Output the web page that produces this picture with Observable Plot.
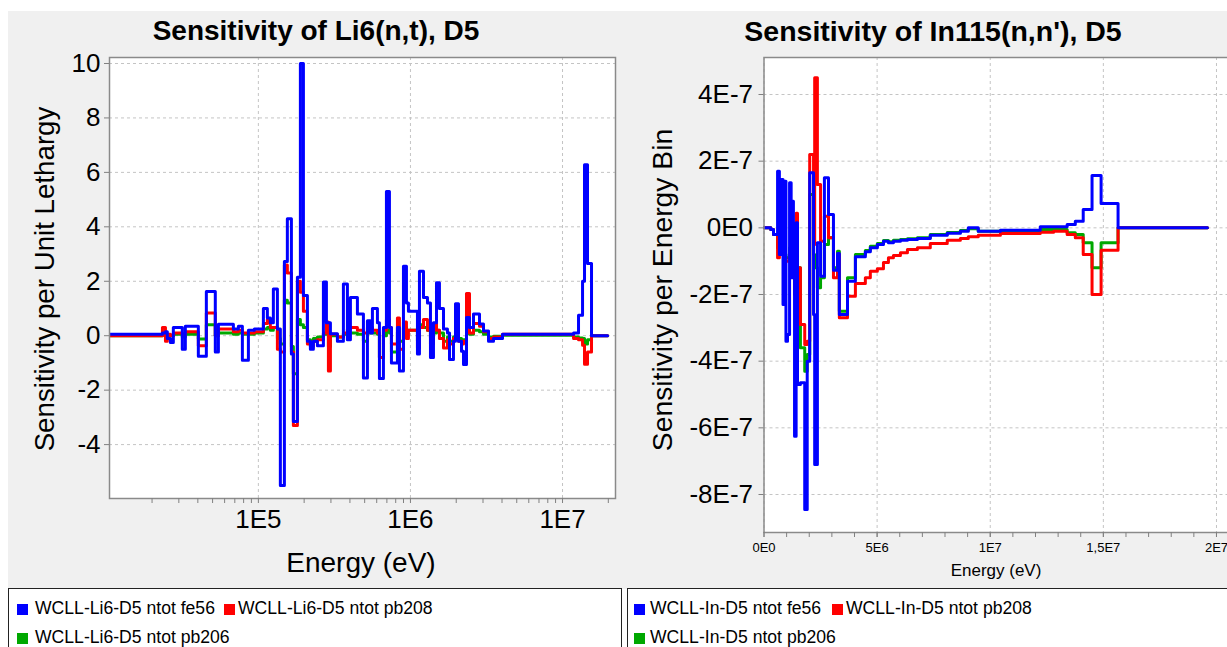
<!DOCTYPE html>
<html><head><meta charset="utf-8">
<script src="https://cdn.jsdelivr.net/npm/d3@7"></script>
<script src="https://cdn.jsdelivr.net/npm/@observablehq/plot@0.6"></script>
<style>
html,body{margin:0;padding:0;background:#fff;overflow:hidden;width:1227px;height:647px;}
#page{position:relative;width:1227px;height:647px;overflow:hidden;font-family:"Liberation Sans",Arial,sans-serif;color:#000;}
#bg{position:absolute;left:8px;top:11px;width:1219px;height:578px;background:#f0f0f0;}
.t{position:absolute;white-space:nowrap;line-height:1;transform:translate(-50%,-50%);}
.rot{transform:translate(-50%,-50%) rotate(-90deg);}
.plot{position:absolute;top:0;}
.legend{position:absolute;top:588px;height:70px;background:#fff;border:1px solid #222;box-sizing:border-box;}
.sq{position:absolute;width:11px;height:11px;}
.lt{position:absolute;white-space:nowrap;line-height:1;font-size:17.6px;transform:translateY(-50%);}
</style></head>
<body><div id="page"><div id="bg"></div></div>
<script>
// ---------- Left panel: Sensitivity of Li6(n,t), D5 (per unit lethargy) ----------
const liEnergy = [1.06e4,2.27e4,2.34e4,2.45e4,2.52e4,2.64e4,2.76e4,3.16e4,3.31e4,4.03e4,
 4.55e4,5.21e4,5.46e4,6.85e4,7.39e4,7.85e4,8.60e4,9.41e4,1.079e5,1.146e5,
 1.199e5,1.255e5,1.334e5,1.395e5,1.483e5,1.551e5,1.649e5,1.699e5,1.806e5,1.889e5,
 1.978e5,2.101e5,2.198e5,2.300e5,2.445e5,2.677e5,2.802e5,2.888e5,2.977e5,3.309e5,
 3.624e5,3.850e5,4.030e5,4.480e5,4.907e5,5.213e5,5.457e5,5.623e5,6.066e5,6.253e5,
 6.643e5,6.952e5,7.275e5,7.499e5,8.212e5,8.464e5,8.995e5,9.412e5,9.701e5,1.112e6,
 1.146e6,1.218e6,1.294e6,1.354e6,1.417e6,1.483e6,1.551e6,1.649e6,1.751e6,1.806e6,
 1.918e6,1.978e6,2.070e6,2.166e6,2.233e6,2.336e6,2.445e6,2.597e6,2.844e6,3.022e6,
 3.261e6,3.516e6,4.030e6,1.182e7,1.274e7,1.354e7,1.395e7,1.460e7,1.551e7,1.978e7];
const liFe56 = [0.05,0.05,0.1,0.15,-0.1,-0.25,0.3,-0.5,0.35,-0.75,
 1.62,-0.6,0.42,0.25,0.35,-0.9,0.2,0.25,1.0,0.65,
 0.48,1.72,0.25,-5.5,2.73,4.3,-0.67,-3.15,2.15,10.0,
 1.48,-0.2,-0.5,-0.2,-0.37,1.97,0.48,0.48,0.07,-0.2,
 1.9,-0.15,1.4,0.8,-1.55,0.55,0.1,1.0,0.48,-1.57,
 0.3,5.3,0.3,-1.0,0.3,-1.3,2.55,1.2,0.9,-0.67,
 2.37,1.4,1.2,-0.8,0.48,1.95,1.0,0.25,0.1,-0.87,
 -0.2,1.17,-0.2,-0.57,-1.06,0.67,0.3,0.8,0.43,0.17,
 -0.2,-0.1,0.05,0.1,0.75,2.0,6.28,2.65,0.0,0.0];
const liPb208 = [0.0,0.0,0.3,-0.2,0.05,0.0,0.1,0.05,0.15,-0.37,
 0.83,0.0,0.25,0.15,0.2,0.1,0.1,0.15,0.45,0.6,
 0.3,0.3,-0.5,-0.6,2.6,2.3,-0.6,-3.3,2.0,1.6,
 0.9,-0.3,-0.4,-0.2,-0.15,0.1,0.5,-1.3,0.05,-0.05,
 0.1,0.25,0.3,0.2,0.1,0.3,0.3,0.2,0.1,-0.8,
 0.2,0.6,0.3,-0.3,0.65,-0.5,0.5,-0.1,0.2,-0.45,
 0.3,0.6,0.2,-0.3,0.45,0.2,-0.1,-0.45,-0.15,-0.3,
 -0.1,0.2,-0.2,-0.3,-0.2,1.55,0.1,0.45,0.35,0.15,
 -0.1,-0.05,0.05,-0.1,-0.15,-0.35,-1.05,-0.6,0.0,0.0];
const liPb206 = [0.0,0.0,0.05,0.0,0.0,0.0,0.05,-0.05,0.05,-0.12,
 0.4,0.0,0.1,0.05,0.1,0.05,0.05,0.1,0.25,0.3,
 0.2,0.3,-0.1,-0.3,1.3,1.2,-0.4,-1.4,0.6,0.4,
 0.3,-0.15,-0.2,-0.1,-0.05,0.05,0.1,-0.4,0.0,-0.05,
 0.05,0.1,0.1,0.05,-0.2,0.1,0.1,0.1,0.05,-0.8,
 0.0,0.2,0.1,-0.6,0.15,-0.2,0.3,0.2,0.2,-0.2,
 0.4,0.3,0.2,-0.1,0.1,0.2,0.1,-0.2,-0.05,-0.2,
 -0.05,0.1,-0.1,-0.15,-0.15,0.5,0.05,0.2,0.15,0.05,
 -0.05,-0.02,0.02,-0.05,-0.08,-0.1,-0.3,-0.15,0.0,0.0];
const liXTicks = [1e5,1e6,1e7];
const liXTickLabels = ["1E5","1E6","1E7"];
const liXMinor = [2e4,3e4,4e4,5e4,6e4,7e4,8e4,9e4,2e5,3e5,4e5,5e5,6e5,7e5,8e5,9e5,2e6,3e6,4e6,5e6,6e6,7e6,8e6,9e6,2e7];
const liYTicks = [-4,-2,0,2,4,6,8,10];

// ---------- Right panel: Sensitivity of In115(n,n'), D5 (per energy bin) ----------
const inEnergy = [0,0.3e6,0.42e6,0.6e6,0.68e6,0.77e6,0.84e6,0.9e6,0.97e6,1.04e6,
 1.13e6,1.2e6,1.26e6,1.3e6,1.35e6,1.42e6,1.48e6,1.61e6,1.8e6,1.91e6,
 2.02e6,2.19e6,2.24e6,2.36e6,2.5e6,2.67e6,2.85e6,3.07e6,3.25e6,3.33e6,
 3.69e6,4.04e6,4.48e6,4.7e6,5.01e6,5.28e6,5.5e6,5.72e6,6.03e6,6.34e6,
 6.78e6,7.35e6,8.1e6,8.68e6,9.03e6,9.47e6,10.45e6,12.21e6,12.8e6,13.4e6,
 13.76e6,14.11e6,14.5e6,14.9e6,15.65e6,19.6e6];
const inFe56 = [0,-0.05e-7,-0.2e-7,1.7e-7,-0.8e-7,1.45e-7,-2.3e-7,1.4e-7,-3.4e-7,-3.2e-7,
 1.35e-7,-1.5e-7,0.8e-7,-1.5e-7,-6.25e-7,0.15e-7,-4.7e-7,-4.65e-7,-8.45e-7,-4.0e-7,
 1.65e-7,-2.6e-7,-7.1e-7,-0.45e-7,-1.45e-7,1.5e-7,0.4e-7,-1.27e-7,-0.77e-7,-2.6e-7,
 -1.6e-7,-0.87e-7,-0.72e-7,-0.6e-7,-0.5e-7,-0.4e-7,-0.45e-7,-0.4e-7,-0.37e-7,-0.35e-7,
 -0.32e-7,-0.22e-7,-0.16e-7,-0.1e-7,0.0,-0.1e-7,-0.07e-7,0.03e-7,0.03e-7,0.1e-7,
 0.2e-7,0.55e-7,1.57e-7,0.73e-7,0.0,0.0];
const inPb208 = [0,-0.05e-7,-0.2e-7,-0.9e-7,-0.7e-7,-0.6e-7,-0.8e-7,-0.9e-7,-1.0e-7,-1.0e-7,
 -0.8e-7,-0.3e-7,-0.5e-7,-1.0e-7,-2.0e-7,0.44e-7,-1.2e-7,-2.9e-7,-3.5e-7,-3.4e-7,
 2.2e-7,-0.5e-7,4.5e-7,1.3e-7,-0.4e-7,0.35e-7,-0.3e-7,-1.5e-7,-0.8e-7,-2.7e-7,
 -2.05e-7,-1.67e-7,-1.5e-7,-1.3e-7,-1.23e-7,-1.04e-7,-0.9e-7,-0.83e-7,-0.75e-7,-0.65e-7,
 -0.6e-7,-0.47e-7,-0.37e-7,-0.32e-7,-0.27e-7,-0.22e-7,-0.17e-7,-0.13e-7,-0.1e-7,-0.2e-7,
 -0.3e-7,-0.8e-7,-2.0e-7,-0.67e-7,0.0,0.0];
const inPb206 = [0,-0.05e-7,-0.2e-7,-0.6e-7,-0.5e-7,-0.5e-7,-0.7e-7,-0.8e-7,-0.9e-7,-0.9e-7,
 -0.6e-7,-0.3e-7,-0.4e-7,-0.8e-7,-1.8e-7,0.1e-7,-1.2e-7,-3.6e-7,-4.3e-7,-3.8e-7,
 1.0e-7,-0.8e-7,-1.2e-7,-1.8e-7,-1.5e-7,-0.5e-7,-0.3e-7,-1.2e-7,-0.7e-7,-2.5e-7,
 -1.5e-7,-0.8e-7,-0.68e-7,-0.55e-7,-0.47e-7,-0.38e-7,-0.42e-7,-0.37e-7,-0.35e-7,-0.33e-7,
 -0.3e-7,-0.2e-7,-0.14e-7,-0.08e-7,-0.03e-7,-0.1e-7,-0.08e-7,-0.05e-7,-0.05e-7,-0.15e-7,
 -0.2e-7,-0.45e-7,-1.2e-7,-0.45e-7,0.0,0.0];
const inXTicks = [0,5e6,1e7,1.5e7,2e7];
const inXTickLabels = ["0E0","5E6","1E7","1,5E7","2E7"];
const inXMinor = d3.range(0,21).map(d=>d*1e6);
const inYTicks = [-8e-7,-6e-7,-4e-7,-2e-7,0,2e-7,4e-7];
const inYTickLabels = ["-8E-7","-6E-7","-4E-7","-2E-7","0E0","2E-7","4E-7"];

const seriesColors = {fe56:"#0000ff", pb208:"#ff0000", pb206:"#00a800"};
const liLegend = ["WCLL-Li6-D5 ntot fe56","WCLL-Li6-D5 ntot pb208","WCLL-Li6-D5 ntot pb206"];
const inLegend = ["WCLL-In-D5 ntot fe56","WCLL-In-D5 ntot pb208","WCLL-In-D5 ntot pb206"];

function rows(E, V){ return E.map((e,i)=>({E:e, v:V[i]})); }
const grid = {stroke:"#c4c4c4", strokeOpacity:1, strokeDasharray:"3,3", strokeWidth:1};
const lineOpt = c => ({x:"E", y:"v", curve:"step-after", stroke:c, strokeWidth:3, clip:true});
const font = "Liberation Sans, Arial, sans-serif";

const left = Plot.plot({
  width:620, height:590, marginLeft:109, marginRight:5, marginTop:57, marginBottom:92,
  style:{background:"transparent", fontFamily:font, color:"#000", overflow:"visible"},
  x:{type:"log", domain:[1.05e4,2.23e7], label:null},
  y:{domain:[-5.98,10.22], label:null},
  marks:[
    Plot.frame({fill:"#fff", stroke:null}),
    Plot.gridX(liXTicks, grid),
    Plot.gridY(liYTicks, grid),
    Plot.line(rows(liEnergy, liPb206), lineOpt(seriesColors.pb206)),
    Plot.line(rows(liEnergy, liPb208), lineOpt(seriesColors.pb208)),
    Plot.line(rows(liEnergy, liFe56), lineOpt(seriesColors.fe56)),
    Plot.frame({stroke:"#8a8a8a", strokeWidth:1.5}),
    Plot.axisX(liXMinor, {tickSize:5, tickFormat:()=>"", stroke:"#808080"}),
    Plot.axisX(liXTicks, {tickSize:5, tickPadding:6, stroke:"#808080", fontSize:26, tickFormat:d=>liXTickLabels[liXTicks.indexOf(d)]}),
    Plot.axisY(liYTicks, {tickSize:5, tickPadding:4, stroke:"#808080", fontSize:26, tickFormat:d=>String(d)})
  ]
});

const right = Plot.plot({
  width:620, height:590, marginLeft:141.5, marginRight:3.4, marginTop:57, marginBottom:58,
  style:{background:"transparent", fontFamily:font, color:"#000", overflow:"visible"},
  x:{domain:[0,2.1e7], label:null},
  y:{domain:[-9.14e-7,5.11e-7], label:null},
  marks:[
    Plot.frame({fill:"#fff", stroke:null}),
    Plot.gridX(inXTicks, grid),
    Plot.gridY(inYTicks, grid),
    Plot.line(rows(inEnergy, inPb206), lineOpt(seriesColors.pb206)),
    Plot.line(rows(inEnergy, inPb208), lineOpt(seriesColors.pb208)),
    Plot.line(rows(inEnergy, inFe56), lineOpt(seriesColors.fe56)),
    Plot.frame({stroke:"#8a8a8a", strokeWidth:1.5}),
    Plot.axisX(inXMinor, {tickSize:5, tickFormat:()=>"", stroke:"#808080"}),
    Plot.axisX(inXTicks, {tickSize:5, tickPadding:5, stroke:"#808080", fontSize:13, tickFormat:d=>inXTickLabels[inXTicks.indexOf(d)]}),
    Plot.axisY(inYTicks, {tickSize:5, tickPadding:6, stroke:"#808080", fontSize:26, tickFormat:d=>inYTickLabels[inYTicks.indexOf(d)]})
  ]
});

const page = document.getElementById("page");
left.classList.add("plot"); left.style.left = "0px"; left.style.position="absolute";
right.classList.add("plot"); right.style.left = "622px"; right.style.position="absolute";
page.appendChild(left); page.appendChild(right);

function txt(s, x, y, css, cls){
  const d = document.createElement("div");
  d.className = "t" + (cls ? " " + cls : "");
  d.textContent = s; d.style.left = x + "px"; d.style.top = y + "px";
  Object.assign(d.style, css||{});
  page.appendChild(d);
}
txt("Sensitivity of Li6(n,t), D5", 316, 31, {fontSize:"28px", fontWeight:"bold"});
txt("Sensitivity of In115(n,n'), D5", 933, 31, {fontSize:"28.5px", fontWeight:"bold"});
txt("Sensitivity per Unit Lethargy", 45, 279, {fontSize:"27.7px"}, "rot");
txt("Energy (eV)", 361, 563, {fontSize:"28px"});
txt("Sensitivity per Energy Bin", 662, 290, {fontSize:"28.3px"}, "rot");
txt("Energy (eV)", 996, 570, {fontSize:"17px"});

function legend(x0, w, labels, items){
  const box = document.createElement("div");
  box.className = "legend"; box.style.left = x0 + "px"; box.style.width = w + "px";
  page.appendChild(box);
  const cols = [seriesColors.fe56, seriesColors.pb208, seriesColors.pb206];
  items.forEach((it,i)=>{
    const sq = document.createElement("div");
    sq.className="sq"; sq.style.background = cols[i];
    sq.style.left = (it[0]-x0) + "px"; sq.style.top = (it[2]-5.5-588) + "px";
    box.appendChild(sq);
    const t = document.createElement("div");
    t.className="lt"; t.textContent = labels[i];
    t.style.left = (it[1]-x0) + "px"; t.style.top = (it[2]-588) + "px";
    box.appendChild(t);
  });
}
legend(8, 614, liLegend, [[16,34,608],[223,237,608],[16,34,637]]);
legend(627, 620, inLegend, [[633,649,608],[831,845,608],[633,649,637]]);
</script></body></html>
